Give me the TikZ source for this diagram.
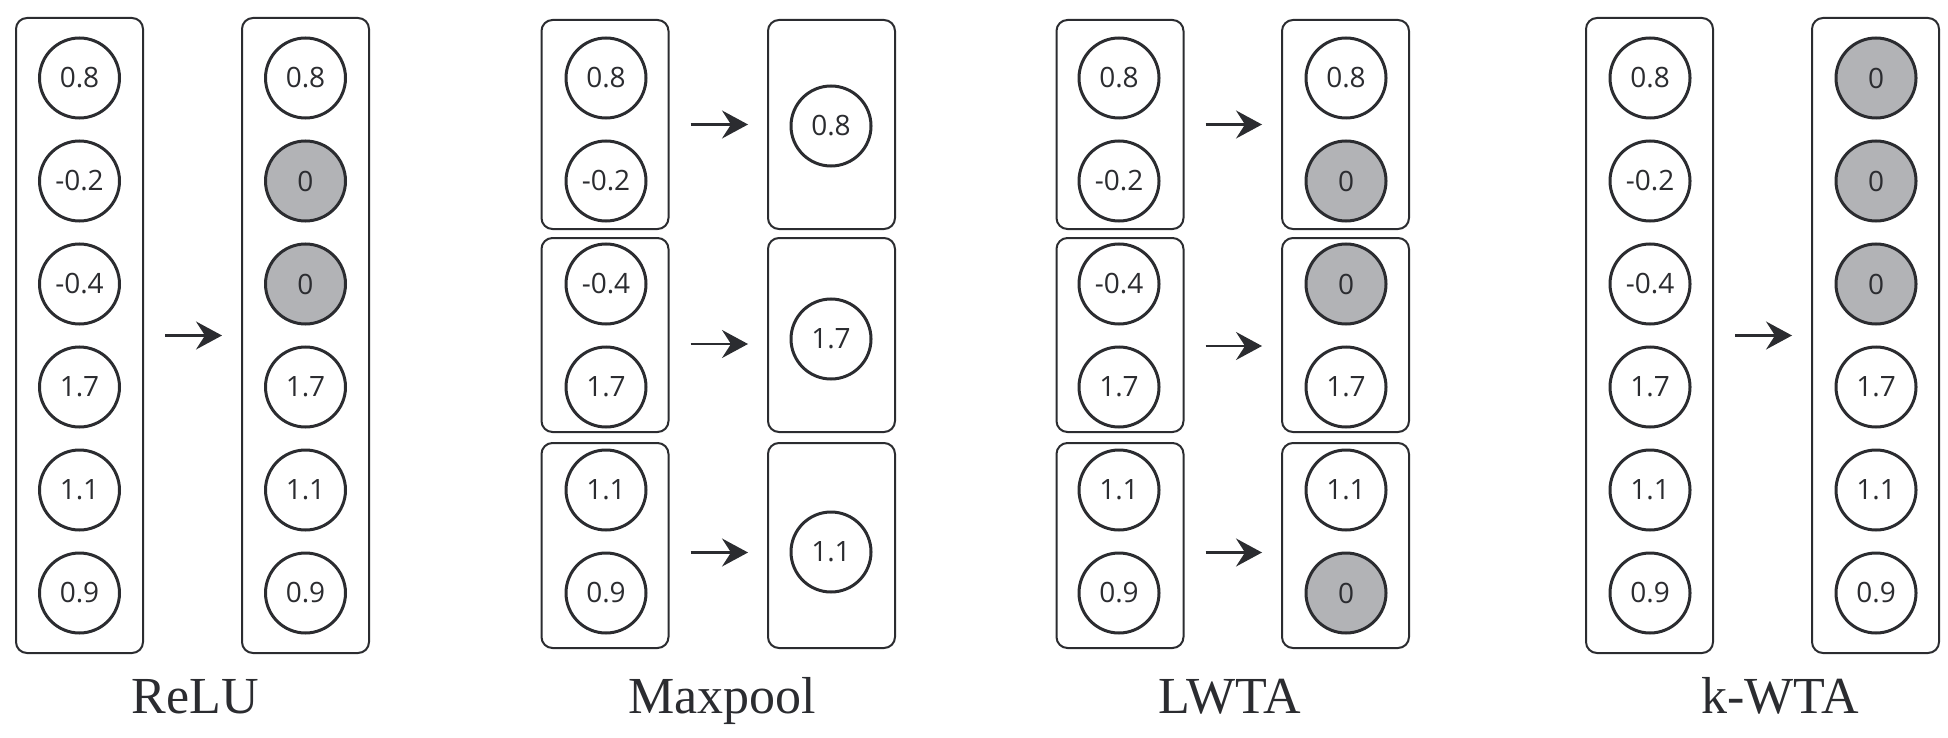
\documentclass[tikz,border=0pt]{standalone}
\usepackage{fontspec}
\setmainfont{Liberation Serif}
\newfontfamily\cellfont{Open Sans}
\usetikzlibrary{arrows.meta}

\definecolor{ink}{HTML}{2B2C30}
\definecolor{off}{HTML}{B2B3B6}

\tikzset{
  unit/.style={circle, draw=ink, line width=3pt, minimum size=80pt, inner sep=0pt, text=ink, font=\cellfont\fontsize{28}{30}\selectfont},
  zero/.style={unit, fill=off},
  box/.style={rectangle, draw=ink, line width=2pt, rounded corners=11pt, minimum width=127pt, inner sep=0pt},
  arr/.style={-{Stealth[length=26pt,width=28pt,inset=9pt]}, draw=ink, line width=2.2pt, shorten <=21pt, shorten >=19pt},
  lbl/.style={anchor=base, text=ink, font=\fontsize{52}{56}\selectfont}
}

\begin{document}
\begin{tikzpicture}[x=1pt, y=-1pt, node distance=103pt]
    \useasboundingbox (0,0) rectangle (1948,738);

    % ReLU
    \node (rin1) [unit] at (79.5,78) {0.8};
    \node (rin2) [unit, below of=rin1] {-0.2};
    \node (rin3) [unit, below of=rin2] {-0.4};
    \node (rin4) [unit, below of=rin3] {1.7};
    \node (rin5) [unit, below of=rin4] {1.1};
    \node (rin6) [unit, below of=rin5] {0.9};
    \node (rout1) [unit] at (305.5,78) {0.8};
    \node (rout2) [zero, below of=rout1] {0};
    \node (rout3) [zero, below of=rout2] {0};
    \node (rout4) [unit, below of=rout3] {1.7};
    \node (rout5) [unit, below of=rout4] {1.1};
    \node (rout6) [unit, below of=rout5] {0.9};
    \node (reluin) [box, minimum height=635pt] at (79.5,335.5) {};
    \node (reluout) [box, minimum height=635pt] at (305.5,335.5) {};

    % Maxpool
    \node (pin1) [unit] at (606,78) {0.8};
    \node (pin2) [unit, below of=pin1] {-0.2};
    \node (pin3) [unit, below of=pin2] {-0.4};
    \node (pin4) [unit, below of=pin3] {1.7};
    \node (pin5) [unit, below of=pin4] {1.1};
    \node (pin6) [unit, below of=pin5] {0.9};
    \node (pout1) [unit] at (831,126) {0.8};
    \node (pout2) [unit] at (831,339) {1.7};
    \node (pout3) [unit] at (831,552) {1.1};
    \node (pool1in) [box, minimum height=209pt] at (605,124.5) {};
    \node (pool2in) [box, minimum height=194pt] at (605,335) {};
    \node (pool3in) [box, minimum height=205pt] at (605,545.5) {};
    \node (pool1out) [box, minimum height=209pt] at (831.5,124.5) {};
    \node (pool2out) [box, minimum height=194pt] at (831.5,335) {};
    \node (pool3out) [box, minimum height=205pt] at (831.5,545.5) {};

    % LWTA
    \node (lin1) [unit] at (1119,78) {0.8};
    \node (lin2) [unit, below of=lin1] {-0.2};
    \node (lin3) [unit, below of=lin2] {-0.4};
    \node (lin4) [unit, below of=lin3] {1.7};
    \node (lin5) [unit, below of=lin4] {1.1};
    \node (lin6) [unit, below of=lin5] {0.9};
    \node (lout1) [unit] at (1346,78) {0.8};
    \node (lout2) [zero, below of=lout1] {0};
    \node (lout3) [zero, below of=lout2] {0};
    \node (lout4) [unit, below of=lout3] {1.7};
    \node (lout5) [unit, below of=lout4] {1.1};
    \node (lout6) [zero, below of=lout5] {0};
    \node (lwta1in) [box, minimum height=209pt] at (1120,124.5) {};
    \node (lwta2in) [box, minimum height=194pt] at (1120,335) {};
    \node (lwta3in) [box, minimum height=205pt] at (1120,545.5) {};
    \node (lwta1out) [box, minimum height=209pt] at (1345.5,124.5) {};
    \node (lwta2out) [box, minimum height=194pt] at (1345.5,335) {};
    \node (lwta3out) [box, minimum height=205pt] at (1345.5,545.5) {};

    % k-WTA
    \node (kin1) [unit] at (1650,78) {0.8};
    \node (kin2) [unit, below of=kin1] {-0.2};
    \node (kin3) [unit, below of=kin2] {-0.4};
    \node (kin4) [unit, below of=kin3] {1.7};
    \node (kin5) [unit, below of=kin4] {1.1};
    \node (kin6) [unit, below of=kin5] {0.9};
    \node (kout1) [zero] at (1876,78) {0};
    \node (kout2) [zero, below of=kout1] {0};
    \node (kout3) [zero, below of=kout2] {0};
    \node (kout4) [unit, below of=kout3] {1.7};
    \node (kout5) [unit, below of=kout4] {1.1};
    \node (kout6) [unit, below of=kout5] {0.9};
    \node (kwtain) [box, minimum height=635pt] at (1649.5,335.5) {};
    \node (kwtaout) [box, minimum height=635pt] at (1875.5,335.5) {};

    % Arrows
    \draw[arr] (reluin.east) -- (reluout.west);
    \draw[arr] (pool1in.east) -- (pool1out.west);
    \draw[arr] ([yshift=-9pt]pool2in.east) -- ([yshift=-9pt]pool2out.west);
    \draw[arr] ([yshift=-7pt]pool3in.east) -- ([yshift=-7pt]pool3out.west);
    \draw[arr] (lwta1in.east) -- (lwta1out.west);
    \draw[arr] ([yshift=-11pt]lwta2in.east) -- ([yshift=-11pt]lwta2out.west);
    \draw[arr] ([yshift=-7pt]lwta3in.east) -- ([yshift=-7pt]lwta3out.west);
    \draw[arr] (kwtain.east) -- (kwtaout.west);

    % Labels
    \node (relulbl) [lbl] at (195,713) {ReLU};
    \node (poollbl) [lbl] at (722,713) {Maxpool};
    \node (lwtalbl) [lbl] at (1230,713) {LWTA};
    \node (kwtalbl) [lbl] at (1780,713) {k-WTA};
\end{tikzpicture}
\end{document}
